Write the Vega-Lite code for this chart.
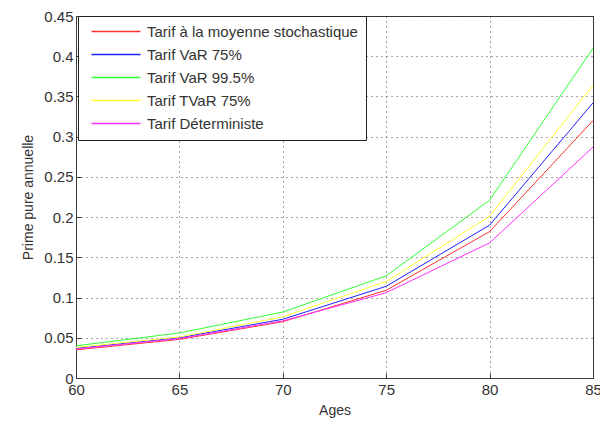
{
  "$schema": "https://vega.github.io/schema/vega-lite/v6.json",
  "width": 517,
  "height": 362,
  "autosize": "none",
  "padding": {"left": 76, "top": 16, "right": 7, "bottom": 45},
  "background": "white",
  "config": {
    "view": {"stroke": "#3a3a3a", "strokeWidth": 1},
    "font": "Liberation Sans",
    "axis": {
      "labelFont": "Liberation Sans",
      "titleFont": "Liberation Sans",
      "labelFontSize": 15,
      "titleFontSize": 14,
      "titleFontWeight": "normal",
      "labelColor": "#333333",
      "titleColor": "#333333",
      "domainColor": "#3a3a3a",
      "tickColor": "#3a3a3a",
      "grid": true,
      "gridColor": "#222222",
      "gridDash": [1, 4],
      "gridOpacity": 0.8,
      "tickSize": -5
    }
  },
  "data": {
    "values": [
      {"age": 60, "serie": "Tarif à la moyenne stochastique", "prime": 0.035},
      {"age": 65, "serie": "Tarif à la moyenne stochastique", "prime": 0.048},
      {"age": 70, "serie": "Tarif à la moyenne stochastique", "prime": 0.070},
      {"age": 75, "serie": "Tarif à la moyenne stochastique", "prime": 0.109},
      {"age": 80, "serie": "Tarif à la moyenne stochastique", "prime": 0.182},
      {"age": 85, "serie": "Tarif à la moyenne stochastique", "prime": 0.320},
      {"age": 60, "serie": "Tarif VaR 75%", "prime": 0.037},
      {"age": 65, "serie": "Tarif VaR 75%", "prime": 0.050},
      {"age": 70, "serie": "Tarif VaR 75%", "prime": 0.073},
      {"age": 75, "serie": "Tarif VaR 75%", "prime": 0.114},
      {"age": 80, "serie": "Tarif VaR 75%", "prime": 0.190},
      {"age": 85, "serie": "Tarif VaR 75%", "prime": 0.342},
      {"age": 60, "serie": "Tarif VaR 99.5%", "prime": 0.040},
      {"age": 65, "serie": "Tarif VaR 99.5%", "prime": 0.056},
      {"age": 70, "serie": "Tarif VaR 99.5%", "prime": 0.082},
      {"age": 75, "serie": "Tarif VaR 99.5%", "prime": 0.127},
      {"age": 80, "serie": "Tarif VaR 99.5%", "prime": 0.221},
      {"age": 85, "serie": "Tarif VaR 99.5%", "prime": 0.410},
      {"age": 60, "serie": "Tarif TVaR 75%", "prime": 0.038},
      {"age": 65, "serie": "Tarif TVaR 75%", "prime": 0.051},
      {"age": 70, "serie": "Tarif TVaR 75%", "prime": 0.076},
      {"age": 75, "serie": "Tarif TVaR 75%", "prime": 0.120},
      {"age": 80, "serie": "Tarif TVaR 75%", "prime": 0.201},
      {"age": 85, "serie": "Tarif TVaR 75%", "prime": 0.364},
      {"age": 60, "serie": "Tarif Déterministe", "prime": 0.036},
      {"age": 65, "serie": "Tarif Déterministe", "prime": 0.049},
      {"age": 70, "serie": "Tarif Déterministe", "prime": 0.071},
      {"age": 75, "serie": "Tarif Déterministe", "prime": 0.106},
      {"age": 80, "serie": "Tarif Déterministe", "prime": 0.168},
      {"age": 85, "serie": "Tarif Déterministe", "prime": 0.287}
    ]
  },
  "mark": {"type": "line", "strokeWidth": 1, "clip": true},
  "encoding": {
    "x": {
      "field": "age",
      "type": "quantitative",
      "title": "Ages",
      "scale": {"domain": [60, 85], "nice": false, "zero": false},
      "axis": {"values": [60, 65, 70, 75, 80, 85], "titlePadding": 6, "labelPadding": 9, "labelFlush": false}
    },
    "y": {
      "field": "prime",
      "type": "quantitative",
      "title": "Prime pure annuelle",
      "scale": {"domain": [0, 0.45], "nice": false},
      "axis": {"values": [0, 0.05, 0.1, 0.15, 0.2, 0.25, 0.3, 0.35, 0.4, 0.45], "format": "~g", "labelPadding": 8, "titlePadding": 8, "labelFlush": false}
    },
    "color": {
      "field": "serie",
      "type": "nominal",
      "scale": {
        "domain": ["Tarif à la moyenne stochastique", "Tarif VaR 75%", "Tarif VaR 99.5%", "Tarif TVaR 75%", "Tarif Déterministe"],
        "range": ["#ff3030", "#2020ff", "#30ff30", "#ffff30", "#ff30ff"]
      },
      "legend": {
        "title": null,
        "orient": "none",
        "legendX": 2,
        "legendY": 0,
        "fillColor": "white",
        "strokeColor": "#222222",
        "padding": 8,
        "symbolType": "M-0.4,0H9.4",
        "symbolSize": 100,
        "symbolStrokeWidth": 1.5,
        "labelFontSize": 15,
        "labelColor": "#333333",
        "labelFont": "Liberation Sans",
        "labelOffset": 46,
        "rowPadding": 7,
        "labelLimit": 400
      }
    }
  }
}
